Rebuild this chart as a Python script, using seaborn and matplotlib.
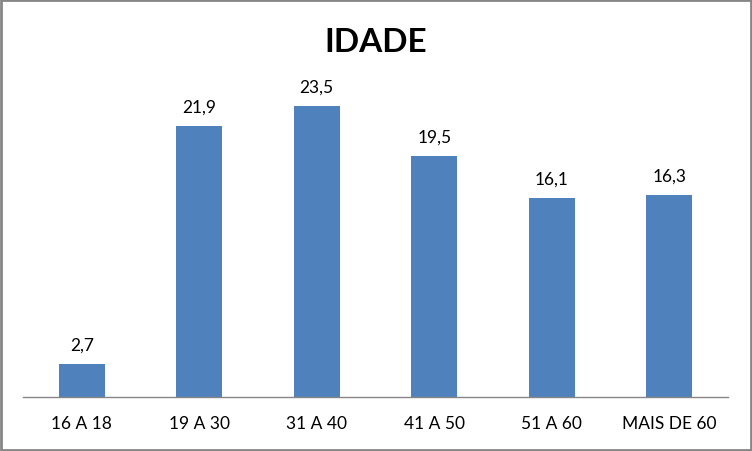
import matplotlib
matplotlib.use("Agg")
import matplotlib.pyplot as plt
import seaborn as sns
import pandas as pd
from matplotlib.patches import Rectangle

categories = ["16 A 18", "19 A 30", "31 A 40", "41 A 50", "51 A 60", "MAIS DE 60"]
values = [2.7, 21.9, 23.5, 19.5, 16.1, 16.3]
title = "IDADE"

sns.set_theme(style="white")
plt.rcParams['font.family'] = ['Lato', 'DejaVu Sans']
plt.rcParams['text.color'] = 'black'

df = pd.DataFrame({"cat": categories, "val": values})

fig = plt.figure(figsize=(7.52, 4.52), dpi=100)
ax = fig.add_axes([23/752, 1 - 398/452, 705/752, 338/452])
sns.barplot(data=df, x="cat", y="val", color="#4F81BD", saturation=1, width=0.39,
            linewidth=0, ax=ax)
ax.set_ylim(0, 338/12.38)
ax.set_xlim(-0.5, len(categories) - 0.5)
ax.set_xlabel("")
ax.set_ylabel("")
ax.set_yticks([])
for s in ["top", "right", "left"]:
    ax.spines[s].set_visible(False)
ax.spines["bottom"].set_color("#868686")
ax.spines["bottom"].set_linewidth(1)
ax.tick_params(axis="x", length=0, pad=13, labelsize=12.5, colors="black")

ax.bar_label(ax.containers[0], labels=[f"{v:.1f}".replace(".", ",") for v in values],
             padding=8, fontsize=12.5, color="black")

fig.text(376/752, 1 - 42/452, title, ha="center", va="center", fontsize=24,
         fontweight="bold", color="black")

fig.patches.append(Rectangle((0.0015, 0.0025), 0.997, 0.995, transform=fig.transFigure,
                             fill=False, edgecolor="#868686", linewidth=2))

fig.savefig("out.png", dpi=100)
